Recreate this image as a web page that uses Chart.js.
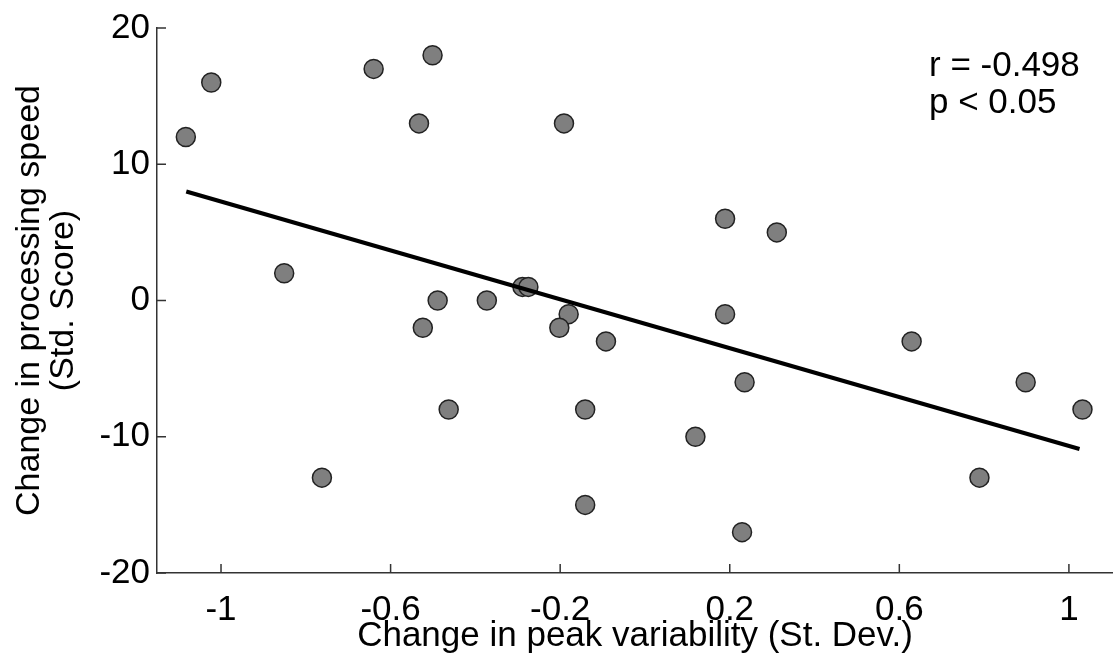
<!DOCTYPE html>
<html><head><meta charset="utf-8">
<script src="https://cdn.jsdelivr.net/npm/chart.js@4"></script>
<style>html,body{margin:0;padding:0;background:#fff}#c{display:block}</style>
</head><body>
<canvas id="c" width="1113" height="661"></canvas>
<script>
const pointX = [-1.083,-1.023,-0.640,-0.501,-0.533,-0.191,-0.851,-0.762,-0.489,-0.524,-0.463,-0.373,-0.289,-0.275,-0.180,-0.202,-0.092,-0.141,-0.141,0.119,0.189,0.189,0.311,0.235,0.229,0.629,0.789,0.898,1.032];
const pointY = [12,16,17,18,13,13,2,-13,0,-2,-8,0,1,1,-1,-2,-3,-8,-15,-10,6,-1,5,-6,-17,-3,-13,-6,-8];
const fitX = [-1.082, 1.025];
const fitY = [8.0, -10.9];
const xTicks = [-1,-0.6,-0.2,0.2,0.6,1];
const yTicks = [-20,-10,0,10,20];
const xTitle = 'Change in peak variability (St. Dev.)';
const yTitle = ['Change in processing speed','(Std. Score)'];
const statLines = ['r = -0.498','p < 0.05'];

const FONT = "'Liberation Sans', Arial, sans-serif";
const AXIS = '#333';

const inwardTicks = {
  id: 'inwardTicks',
  afterDraw(chart) {
    const {ctx, chartArea: a, scales: {x, y}} = chart;
    ctx.save();
    ctx.strokeStyle = AXIS;
    ctx.lineWidth = 1.5;
    ctx.beginPath();
    xTicks.forEach(v => { const p = x.getPixelForValue(v); ctx.moveTo(p, a.bottom); ctx.lineTo(p, a.bottom - 9); });
    yTicks.forEach(v => { const p = y.getPixelForValue(v); ctx.moveTo(a.left, p); ctx.lineTo(a.left + 9, p); });
    ctx.stroke();
    ctx.fillStyle = '#000';
    ctx.font = '35px ' + FONT;
    ctx.textAlign = 'left';
    ctx.textBaseline = 'middle';
    statLines.forEach((t, i) => ctx.fillText(t, a.right - 184, a.top + 38 + i * 37));
    ctx.restore();
  }
};

new Chart(document.getElementById('c'), {
  type: 'scatter',
  data: {
    datasets: [
      { type: 'line', data: fitX.map((v, i) => ({x: v, y: fitY[i]})), borderColor: '#000', borderWidth: 4, pointRadius: 0, fill: false, order: 0 },
      { data: pointX.map((v, i) => ({x: v, y: pointY[i]})), pointRadius: 9.5, pointBackgroundColor: '#7f7f7f', pointBorderColor: '#222', pointBorderWidth: 1.5, order: 1 }
    ]
  },
  options: {
    responsive: false,
    animation: false,
    devicePixelRatio: 1,
    layout: { autoPadding: false, padding: { top: 23, right: 0, left: 0, bottom: 0 } },
    plugins: { legend: { display: false }, tooltip: { enabled: false } },
    scales: {
      x: {
        type: 'linear', min: -1.151, max: 1.104,
        afterBuildTicks: s => { s.ticks = xTicks.map(v => ({value: v})); },
        afterFit: s => { s.height = 88; },
        grid: { display: false, drawTicks: false },
        border: { display: true, color: AXIS, width: 1.5 },
        ticks: { font: { family: FONT, size: 35 }, color: '#000', padding: 16, maxRotation: 0, autoSkip: false, callback: v => String(v) },
        title: { display: true, text: xTitle, font: { family: FONT, size: 35, lineHeight: 1.03 }, color: '#000', padding: { top: 0, bottom: 7 } }
      },
      y: {
        type: 'linear', min: -20, max: 20,
        afterBuildTicks: s => { s.ticks = yTicks.map(v => ({value: v})); },
        afterFit: s => { s.width = 157; },
        grid: { display: false, drawTicks: false },
        border: { display: true, color: AXIS, width: 1.5 },
        ticks: { font: { family: FONT, size: 35 }, color: '#000', padding: 7, autoSkip: false, callback: v => String(v) },
        title: { display: true, text: yTitle, font: { family: FONT, size: 34, lineHeight: 1.0 }, color: '#000', padding: { top: 13, bottom: 0 } }
      }
    }
  },
  plugins: [inwardTicks]
});
</script>
</body></html>
